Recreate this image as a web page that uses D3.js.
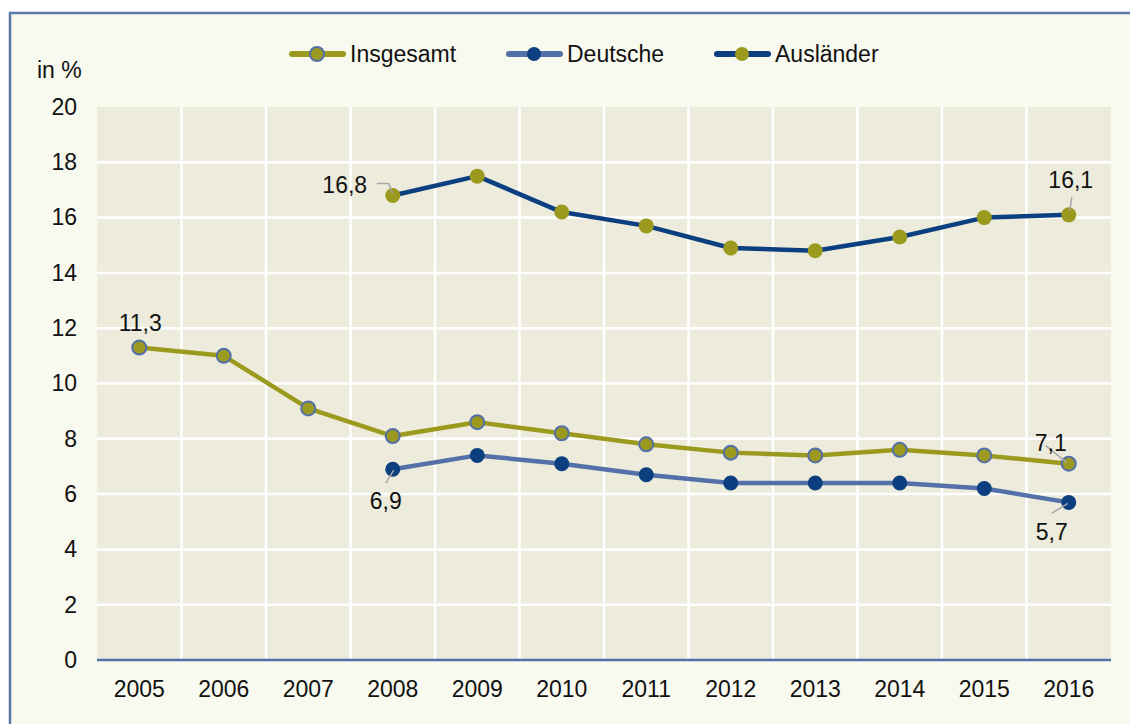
<!DOCTYPE html>
<html>
<head>
<meta charset="utf-8">
<script src="https://cdn.jsdelivr.net/npm/d3@7"></script>
<style>
  body { margin: 0; background: #fff; }
  svg { display: block; font-family: "Liberation Sans", Arial, sans-serif; }
</style>
</head>
<body>
<div id="chart"></div>
<script>
// data
var years = ["2005", "2006", "2007", "2008", "2009", "2010", "2011", "2012", "2013", "2014", "2015", "2016"];
var insgesamt = [11.3, 11.0, 9.1, 8.1, 8.6, 8.2, 7.8, 7.5, 7.4, 7.6, 7.4, 7.1];
var deutsche = [null, null, null, 6.9, 7.4, 7.1, 6.7, 6.4, 6.4, 6.4, 6.2, 5.7];
var auslaender = [null, null, null, 16.8, 17.5, 16.2, 15.7, 14.9, 14.8, 15.3, 16.0, 16.1];
var yTicks = [0, 2, 4, 6, 8, 10, 12, 14, 16, 18, 20];

var W = 1130, H = 724;
var margin = { t: 107, r: 19, b: 64, l: 97 };
var fs = 23;

var svg = d3.select('#chart')
    .append('svg')
    .attr('width', W)
    .attr('height', H);

// outer panel
svg.append('rect')
    .attr('x', 10).attr('y', 13)
    .attr('width', W).attr('height', H)
    .attr('fill', '#f8f9ef')
    .attr('stroke', '#5a77a9')
    .attr('stroke-width', 2.5);

var x = d3.scaleBand()
    .domain(years)
    .range([margin.l, W - margin.r])
    .padding(0);

var y = d3.scaleLinear()
    .domain([0, 20])
    .range([H - margin.b, margin.t]);

// plot background
svg.append('rect')
    .attr('x', margin.l).attr('y', margin.t)
    .attr('width', x.range()[1] - margin.l)
    .attr('height', y(0) - margin.t)
    .attr('fill', '#ecebdc');

// grid
svg.append('g').selectAll('line.h')
    .data(yTicks.slice(1, -1))
    .enter().append('line')
    .attr('x1', margin.l).attr('x2', x.range()[1])
    .attr('y1', function (d) { return y(d); })
    .attr('y2', function (d) { return y(d); })
    .attr('stroke', '#fff').attr('stroke-width', 2.5);

svg.append('g').selectAll('line.v')
    .data(years.slice(1))
    .enter().append('line')
    .attr('x1', function (d) { return x(d); })
    .attr('x2', function (d) { return x(d); })
    .attr('y1', margin.t).attr('y2', y(0))
    .attr('stroke', '#fff').attr('stroke-width', 2.5);

// x axis
var xAxis = svg.append('g')
    .attr('transform', 'translate(0,' + y(0) + ')')
    .call(d3.axisBottom(x).tickSize(0));
xAxis.select('.domain').attr('stroke', '#5470a8').attr('stroke-width', 2.5)
    .attr('d', 'M' + margin.l + ',0H' + x.range()[1]);
xAxis.selectAll('text').attr('font-size', fs).attr('fill', '#111')
    .attr('font-family', '"Liberation Sans", Arial, sans-serif')
    .attr('y', 37).attr('dy', 0);

// y axis
var yAxis = svg.append('g')
    .attr('transform', 'translate(' + margin.l + ',0)')
    .call(d3.axisLeft(y).tickValues(yTicks).tickSize(0).tickPadding(20));
yAxis.select('.domain').remove();
yAxis.selectAll('text').attr('font-size', fs).attr('fill', '#111')
    .attr('font-family', '"Liberation Sans", Arial, sans-serif');

svg.append('text')
    .attr('x', 37).attr('y', 78)
    .attr('font-size', fs).attr('fill', '#111')
    .text('in %');

// series
var series = [
    { name: 'Insgesamt', values: insgesamt, line: '#9b9a1f', fill: '#9b9a1f', stroke: '#5470a8' },
    { name: 'Deutsche', values: deutsche, line: '#5470a8', fill: '#0b3f80', stroke: 'none' },
    { name: 'Ausländer', values: auslaender, line: '#0b3f80', fill: '#9b9a1f', stroke: 'none' }
];

var line = d3.line()
    .defined(function (d) { return d.v !== null; })
    .x(function (d) { return x(d.year) + x.bandwidth() / 2; })
    .y(function (d) { return y(d.v); });

series.forEach(function (s) {
    var pts = years.map(function (yr, i) { return { year: yr, v: s.values[i] }; });
    svg.append('path')
        .datum(pts)
        .attr('d', line)
        .attr('fill', 'none')
        .attr('stroke', s.line)
        .attr('stroke-width', 4.5)
        .attr('stroke-linejoin', 'round');
    svg.append('g').selectAll('circle')
        .data(pts.filter(function (d) { return d.v !== null; }))
        .enter().append('circle')
        .attr('cx', function (d) { return x(d.year) + x.bandwidth() / 2; })
        .attr('cy', function (d) { return y(d.v); })
        .attr('r', s.stroke === 'none' ? 7.5 : 7)
        .attr('fill', s.fill)
        .attr('stroke', s.stroke)
        .attr('stroke-width', 2);
});

// data labels (series, year, text offset, leader line offsets)
var labels = [
    { s: insgesamt, year: '2005', dx: 1, dy: -17, lead: null },
    { s: auslaender, year: '2008', dx: -48, dy: -2, lead: [[-16, -12], [-4, -12], [0, -2]] },
    { s: auslaender, year: '2016', dx: 2, dy: -27, lead: [[1, -4], [3, -18]] },
    { s: deutsche, year: '2008', dx: -7, dy: 40, lead: [[1, 1], [-7, 14]] },
    { s: insgesamt, year: '2016', dx: -18, dy: -13, lead: [[-2, -1], [-23, -18]] },
    { s: deutsche, year: '2016', dx: -17, dy: 38, lead: [[-1, 1], [-17, 11]] }
];

labels.forEach(function (l) {
    var i = years.indexOf(l.year);
    var cx = x(l.year) + x.bandwidth() / 2, cy = y(l.s[i]);
    if (l.lead) {
        svg.append('polyline')
            .attr('points', l.lead.map(function (p) { return (cx + p[0]) + ',' + (cy + p[1]); }).join(' '))
            .attr('fill', 'none').attr('stroke', '#a6a6a6').attr('stroke-width', 1.5);
    }
    svg.append('text')
        .attr('x', cx + l.dx).attr('y', cy + l.dy)
        .attr('text-anchor', 'middle')
        .attr('font-size', fs).attr('fill', '#111')
        .text(String(l.s[i]).replace('.', ','));
});

// legend
var legendX = [290, 507, 715];
series.forEach(function (s, i) {
    var g = svg.append('g').attr('transform', 'translate(' + legendX[i] + ',54)');
    g.append('line').attr('x1', 2).attr('x2', 53)
        .attr('stroke', s.line).attr('stroke-width', 6).attr('stroke-linecap', 'round');
    g.append('circle').attr('cx', 27).attr('r', 7)
        .attr('fill', s.fill).attr('stroke', s.stroke).attr('stroke-width', 2);
    g.append('text').attr('x', 60).attr('y', 8)
        .attr('font-size', fs).attr('fill', '#111')
        .text(s.name);
});
</script>
</body>
</html>
